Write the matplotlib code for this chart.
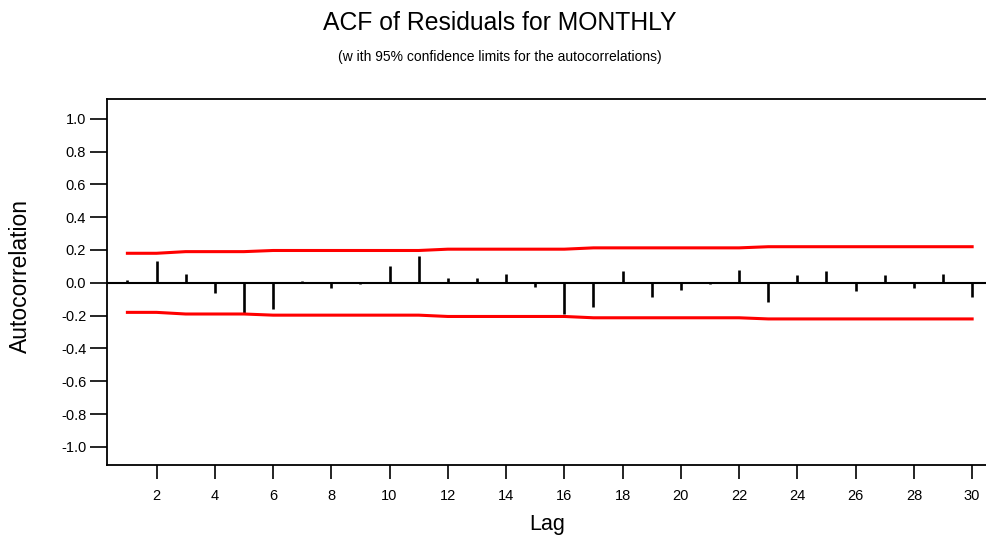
import matplotlib
matplotlib.use("Agg")
import matplotlib.pyplot as plt
import numpy as np

plt.rcParams['font.family'] = ['Liberation Sans', 'DejaVu Sans']

# lags and residual autocorrelations
lags = list(range(1, 31))
acf = [0.02, 0.132, 0.055, -0.063, -0.181, -0.16, 0.014, -0.033, -0.008, 0.10,
       0.165, 0.03, 0.03, 0.055, -0.026, -0.189, -0.150, 0.069, -0.087, -0.041,
       -0.008, 0.077, -0.118, 0.047, 0.069, -0.049, 0.047, -0.033, 0.055, -0.087]
# 95% confidence limit (upper; lower is the mirror)
conf = [0.18, 0.18, 0.19, 0.19, 0.19, 0.197, 0.197, 0.197, 0.197, 0.197,
        0.197, 0.205, 0.205, 0.205, 0.205, 0.205, 0.213, 0.213, 0.213, 0.213,
        0.213, 0.213, 0.22, 0.22, 0.22, 0.22, 0.22, 0.22, 0.22, 0.22]
yticks = [1.0, 0.8, 0.6, 0.4, 0.2, 0.0, -0.2, -0.4, -0.6, -0.8, -1.0]
xticks = list(range(2, 31, 2))

fig = plt.figure(figsize=(9.87, 5.36), dpi=100)
ax = fig.add_axes([107/987, 1 - 465/536, 880/987, 366/536])

ax.axhline(0, color='black', lw=1.5)
ax.vlines(lags, 0, acf, color='black', lw=1.9)
ax.plot(lags, conf, color='#ff0000', lw=2.2)
ax.plot(lags, -np.array(conf), color='#ff0000', lw=2.2)

ax.set_xlim(0.3, 30.51)
ax.set_ylim(-1.11, 1.12)
ax.set_xticks(xticks)
ax.set_yticks(yticks)
ax.set_yticklabels(['%.1f' % v for v in yticks])
ax.tick_params(axis='y', direction='out', length=12, width=1.2, labelsize=10.5, pad=3)
ax.tick_params(axis='x', direction='out', length=10, width=1.2, labelsize=10.5, pad=7)
ax.spines['right'].set_visible(False)
for s in ['left', 'top', 'bottom']:
    ax.spines[s].set_linewidth(1.3)

ax.set_xlabel('Lag', fontsize=15.5, labelpad=8)
fig.text(20/987, 0.485, 'Autocorrelation', rotation=90, ha='center', va='center', fontsize=16.5)

fig.text(0.506, 0.957, 'ACF of Residuals for MONTHLY', ha='center', va='center', fontsize=17.8)
fig.text(0.506, 0.894, '(w ith 95% confidence limits for the autocorrelations)',
         ha='center', va='center', fontsize=10)

fig.savefig('out.png', dpi=100)
